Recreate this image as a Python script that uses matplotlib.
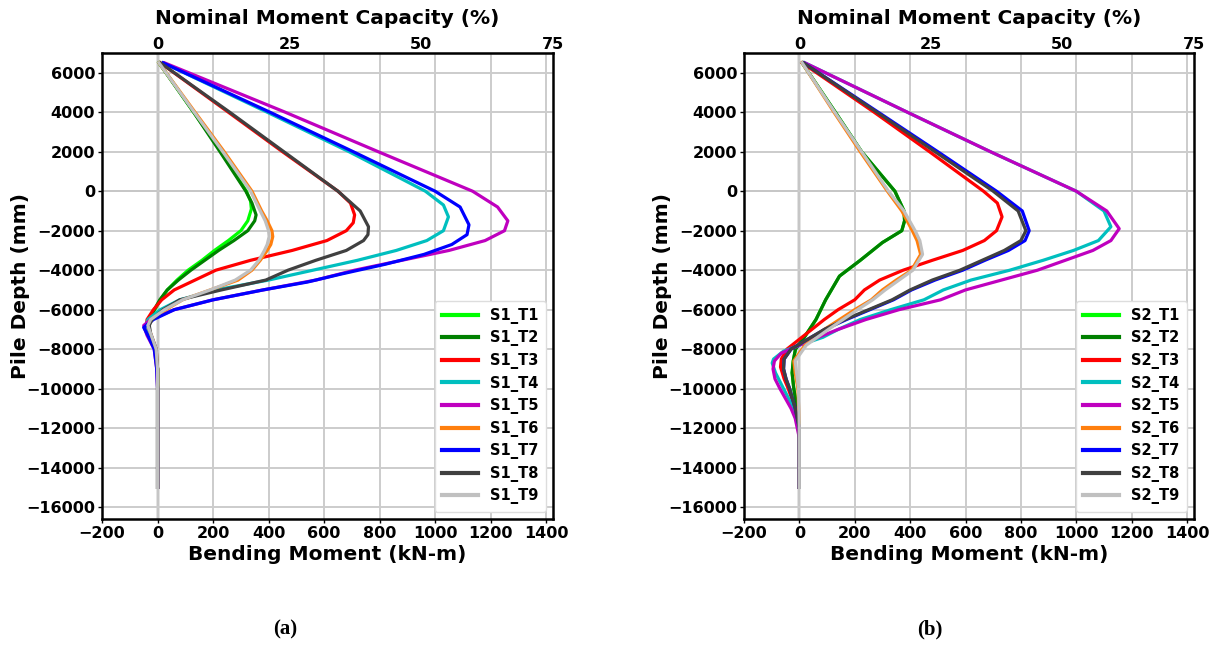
import matplotlib
matplotlib.use("Agg")
import matplotlib.pyplot as plt

# ---------------- data ----------------
labels_a = ["S1_T1", "S1_T2", "S1_T3", "S1_T4", "S1_T5", "S1_T6", "S1_T7", "S1_T8", "S1_T9"]
labels_b = ["S2_T1", "S2_T2", "S2_T3", "S2_T4", "S2_T5", "S2_T6", "S2_T7", "S2_T8", "S2_T9"]
colors = ["#00ff00", "#008000", "#ff0000", "#00bfbf", "#bf00bf", "#ff7f0e", "#0000ff", "#404040", "#c0c0c0"]

# Panel (a) depth (mm) and moment (kN-m)
a1_d = [6500, 4000, 2000, 0, -500, -900, -1500, -2000, -2500, -3000, -3500, -4000, -4500, -5000, -5500, -6000, -6500, -6800, -7200, -8000, -9000, -15000]
a1_m = [5, 130, 230, 320, 335, 338, 325, 300, 255, 205, 160, 110, 70, 35, 10, -10, -30, -38, -30, -8, 0, 0]
a2_d = [6500, 4000, 2000, 0, -600, -1200, -1500, -2000, -2500, -3000, -3500, -4000, -4500, -5000, -5500, -6000, -6500, -6800, -7200, -8000, -9000, -15000]
a2_m = [5, 130, 225, 318, 340, 355, 350, 325, 275, 220, 170, 120, 75, 35, 8, -12, -30, -35, -28, -8, 0, 0]
a3_d = [6500, 4000, 2000, 0, -600, -1200, -1600, -2000, -2500, -3000, -3500, -4000, -4500, -5000, -5500, -6000, -6500, -6800, -7200, -8000, -9000, -15000]
a3_m = [10, 255, 450, 650, 695, 710, 705, 680, 610, 485, 335, 210, 135, 60, 15, -15, -38, -40, -30, -8, 0, 0]
a4_d = [6500, 4000, 2000, 0, -700, -1300, -2000, -2500, -3000, -3500, -4000, -4500, -5000, -5500, -6000, -6500, -6800, -7200, -8000, -9000, -15000]
a4_m = [20, 395, 690, 965, 1030, 1048, 1030, 970, 860, 720, 560, 400, 210, 80, 10, -35, -42, -30, -8, 0, 0]
a5_d = [6500, 4000, 2000, 0, -800, -1500, -2000, -2500, -3000, -3500, -4000, -4500, -5000, -5500, -6000, -6500, -6800, -7300, -8000, -9000, -10000, -15000]
a5_m = [25, 460, 795, 1135, 1225, 1262, 1250, 1180, 1050, 880, 710, 570, 380, 200, 60, -25, -50, -38, -12, -3, 0, 0]
a6_d = [6500, 4000, 2000, 0, -1000, -1500, -2000, -2300, -2700, -3000, -3500, -4000, -4500, -5000, -5500, -6000, -6500, -6800, -7200, -8000, -9000, -15000]
a6_m = [5, 135, 240, 340, 375, 395, 412, 415, 408, 395, 370, 340, 290, 190, 90, 30, -25, -35, -25, -5, 0, 0]
a7_d = [6500, 4000, 2000, 0, -800, -1700, -2200, -2700, -3200, -3700, -4200, -4600, -5000, -5500, -6000, -6500, -6900, -7300, -8000, -9000, -10000, -15000]
a7_m = [20, 405, 705, 1000, 1090, 1122, 1115, 1060, 960, 820, 660, 540, 380, 200, 60, -15, -50, -35, -12, -3, 0, 0]
a8_d = [6500, 4000, 2000, 0, -1000, -1800, -2200, -2500, -3000, -3500, -4000, -4500, -5000, -5500, -6000, -6500, -6800, -7200, -8000, -9000, -15000]
a8_m = [10, 260, 455, 650, 730, 760, 758, 742, 680, 570, 470, 390, 230, 80, 20, -20, -30, -25, -5, 0, 0]
a9_d = [6500, 4000, 2000, 0, -1000, -1500, -2000, -2300, -2700, -3000, -3500, -4000, -4500, -5000, -5500, -6000, -6500, -6800, -7200, -8000, -9000, -15000]
a9_m = [5, 132, 235, 335, 370, 388, 400, 402, 395, 385, 365, 335, 280, 190, 90, 25, -25, -35, -25, -5, 0, 0]

# Panel (b)
b1_d = [6500, 4000, 2000, 0, -1000, -1500, -2000, -2600, -3500, -4300, -5500, -6500, -7400, -8000, -8600, -9200, -10000, -11000, -12000, -15000]
b1_m = [10, 130, 225, 345, 378, 380, 370, 300, 220, 145, 95, 60, 18, -14, -22, -26, -20, -8, 0, 0]
b2_d = [6500, 4000, 2000, 0, -1000, -1500, -2000, -2600, -3500, -4300, -5500, -6500, -7400, -8000, -8600, -9200, -10000, -11000, -12000, -15000]
b2_m = [10, 130, 225, 345, 378, 380, 370, 300, 220, 145, 95, 60, 18, -14, -22, -26, -20, -8, 0, 0]
b3_d = [6500, 4000, 2000, 0, -600, -1300, -2000, -2500, -3000, -3500, -4000, -4500, -5000, -5500, -6000, -6500, -7000, -7500, -8000, -8500, -8900, -9500, -10000, -11000, -12000, -15000]
b3_m = [10, 270, 470, 665, 715, 732, 712, 668, 590, 480, 375, 290, 235, 200, 140, 90, 45, 0, -45, -65, -68, -55, -40, -15, 0, 0]
b4_d = [6500, 4000, 2000, 0, -1000, -1800, -2500, -3000, -3500, -4000, -4500, -5000, -5500, -6000, -6500, -7000, -7400, -7800, -8100, -8500, -8700, -9200, -10000, -11000, -12000, -15000]
b4_m = [20, 390, 690, 1000, 1100, 1125, 1080, 990, 880, 760, 620, 520, 450, 330, 220, 140, 85, 0, -57, -93, -98, -86, -57, -20, 0, 0]
b5_d = [6500, 4000, 2000, 0, -1000, -1900, -2500, -3000, -3500, -4000, -4500, -5000, -5500, -6000, -6500, -7000, -7500, -7800, -8200, -8600, -9000, -9500, -10000, -10500, -11000, -11500, -12500, -15000]
b5_m = [20, 390, 690, 1000, 1110, 1155, 1125, 1060, 960, 860, 730, 600, 510, 360, 240, 140, 50, 0, -65, -90, -95, -88, -70, -50, -30, -15, 0, 0]
b6_d = [6500, 4000, 2000, 0, -1000, -2000, -2500, -3200, -4000, -4500, -5000, -5500, -6000, -7000, -7800, -8600, -9200, -10000, -12000, -15000]
b6_m = [10, 125, 220, 318, 370, 408, 425, 438, 405, 350, 300, 260, 200, 90, 20, -20, -15, -5, 0, 0]
b7_d = [6500, 4000, 2000, 0, -1000, -2000, -2500, -3000, -3500, -4000, -4500, -5000, -5500, -6000, -6500, -7000, -7500, -8000, -8500, -9000, -9500, -10000, -11000, -12000, -15000]
b7_m = [15, 285, 500, 712, 805, 830, 815, 755, 670, 590, 490, 405, 340, 255, 170, 92, 30, -30, -55, -57, -48, -35, -15, 0, 0]
b8_d = [6500, 4000, 2000, 0, -1000, -2000, -2500, -3000, -3500, -4000, -4500, -5000, -5500, -6000, -6500, -7000, -7500, -8000, -8500, -9000, -9500, -10000, -11000, -12000, -15000]
b8_m = [15, 280, 490, 700, 790, 818, 800, 740, 660, 580, 480, 400, 335, 250, 165, 90, 30, -30, -55, -57, -48, -35, -15, 0, 0]
b9_d = [6500, 4000, 2000, 0, -1000, -2000, -2500, -3200, -4000, -4500, -5000, -5500, -6000, -7000, -7800, -8600, -9200, -10000, -12000, -15000]
b9_m = [10, 128, 225, 322, 378, 418, 435, 445, 410, 360, 310, 265, 210, 105, 25, -15, -10, -3, 0, 0]

series_a = [(a1_m, a1_d), (a2_m, a2_d), (a3_m, a3_d), (a4_m, a4_d), (a5_m, a5_d),
            (a6_m, a6_d), (a7_m, a7_d), (a8_m, a8_d), (a9_m, a9_d)]
series_b = [(b1_m, b1_d), (b2_m, b2_d), (b3_m, b3_d), (b4_m, b4_d), (b5_m, b5_d),
            (b6_m, b6_d), (b7_m, b7_d), (b8_m, b8_d), (b9_m, b9_d)]

x_ticks = [-200, 0, 200, 400, 600, 800, 1000, 1200, 1400]
y_ticks = [6000, 4000, 2000, 0, -2000, -4000, -6000, -8000, -10000, -12000, -14000, -16000]
pct_ticks = [0, 25, 50, 75]
nominal_capacity = 1900.0  # kN-m -> 100 %

# ---------------- figure ----------------
fig = plt.figure(figsize=(12.15, 6.46), dpi=100)
ax_a = fig.add_axes([0.084, 0.1966, 0.3712, 0.7214])
ax_b = fig.add_axes([0.6123, 0.1966, 0.3704, 0.7214])

bold = dict(fontweight="bold")
TICK_FS = 11.5
LABEL_FS = 14.5


def to_pct(x):
    return x / nominal_capacity * 100.0


def from_pct(p):
    return p * nominal_capacity / 100.0


def draw(ax, series, labels):
    ax.grid(True, color="#cccccc", linewidth=1.4, zorder=0)
    ax.axhline(0, color="black", linewidth=1.3, zorder=1)
    ax.axvline(0, color="black", linewidth=1.6, zorder=1)
    for (m, d), lab, c in zip(series, labels, colors):
        ax.plot(m, d, color=c, linewidth=2.3, label=lab, zorder=2)
    ax.set_xlim(-200, 0.75 * nominal_capacity)
    ax.set_ylim(-16600, 7000)
    ax.set_xticks(x_ticks)
    ax.set_yticks(y_ticks)
    for t in ax.get_xticklabels() + ax.get_yticklabels():
        t.set_fontweight("bold")
        t.set_fontsize(TICK_FS)
    ax.tick_params(length=3, width=1, pad=2)
    ax.set_xlabel("Bending Moment (kN-m)", fontsize=LABEL_FS, labelpad=3, **bold)
    ax.set_ylabel("Pile Depth (mm)", fontsize=LABEL_FS, labelpad=-3, **bold)
    for s in ax.spines.values():
        s.set_linewidth(1.8)
        s.set_color("black")
    sec = ax.secondary_xaxis("top", functions=(to_pct, from_pct))
    sec.set_xticks(pct_ticks)
    for t in sec.get_xticklabels():
        t.set_fontweight("bold")
        t.set_fontsize(TICK_FS)
    sec.tick_params(length=0, pad=1)
    sec.set_xlabel("Nominal Moment Capacity (%)", fontsize=LABEL_FS, labelpad=9, **bold)
    leg = ax.legend(loc="lower right", prop=dict(weight="bold", size=10.5),
                    handlelength=2.5, labelspacing=0.45, borderpad=0.5,
                    framealpha=1.0, edgecolor="#dddddd", fancybox=True)
    for h in leg.get_lines():
        h.set_linewidth(3)


draw(ax_a, series_a, labels_a)
draw(ax_b, series_b, labels_b)

fig.text(0.2345, 0.025, "(a)", ha="center", va="center", fontsize=15,
         fontweight="bold", family="Liberation Serif")
fig.text(0.7655, 0.025, "(b)", ha="center", va="center", fontsize=15,
         fontweight="bold", family="Liberation Serif")

fig.savefig("out.png", dpi=100)
